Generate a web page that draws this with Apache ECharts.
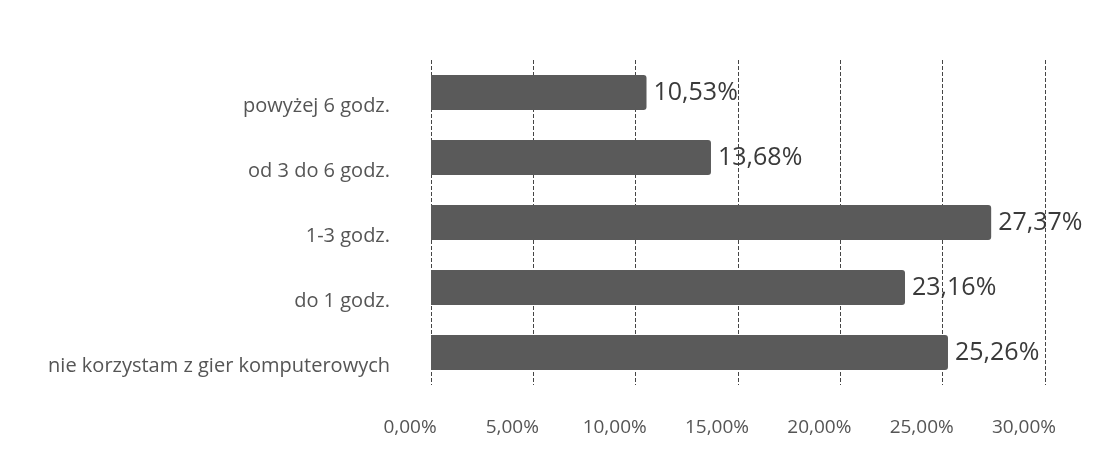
<!DOCTYPE html>
<html>
<head>
<meta charset="utf-8">
<script src="https://cdn.jsdelivr.net/npm/echarts@6/dist/echarts.min.js"></script>
<style>
  html, body { margin: 0; padding: 0; background: #ffffff; }
  #chart { width: 1117px; height: 458px; }
</style>
</head>
<body>
<div id="chart"></div>
<script>
// Time spent on computer games (share of respondents), bottom to top
const categories = [
  'nie korzystam z gier komputerowych',
  'do 1 godz.',
  '1-3 godz.',
  'od 3 do 6 godz.',
  'powyżej 6 godz.'
];
const shares = [25.26, 23.16, 27.37, 13.68, 10.53];

// Axis range and tick step (percent)
const axisMin = 0;
const axisMax = 30;
const axisStep = 5;

const pct = v => v.toFixed(2).replace('.', ',') + '%';

const chart = echarts.init(document.getElementById('chart'), null, { renderer: 'canvas' });

chart.setOption({
  backgroundColor: '#ffffff',
  animation: false,
  grid: { left: 431, right: 72, top: 60, bottom: 73, containLabel: false },
  xAxis: {
    type: 'value',
    min: axisMin,
    max: axisMax,
    interval: axisStep,
    axisLine: { show: false },
    axisTick: { show: false },
    splitLine: {
      show: true,
      lineStyle: { color: '#454545', width: 1, type: [4, 2] }
    },
    axisLabel: {
      margin: 33,
      fontFamily: 'Open Sans',
      fontSize: 19,
      color: '#555555',
      padding: [0, 42, 0, 0],
      formatter: v => pct(v)
    }
  },
  yAxis: {
    type: 'category',
    data: categories,
    axisLine: { show: false },
    axisTick: { show: false },
    splitLine: { show: false },
    axisLabel: {
      margin: 41,
      fontFamily: 'Open Sans',
      fontSize: 20,
      color: '#555555',
      verticalAlign: 'top',
      padding: [4, 0, 0, 0]
    }
  },
  series: [{
    type: 'bar',
    data: shares,
    barCategoryGap: '46%',
    itemStyle: {
      color: '#5a5a5a',
      borderRadius: [0, 3, 3, 0]
    },
    label: {
      show: true,
      position: 'right',
      distance: 7,
      fontFamily: 'Open Sans',
      fontSize: 25,
      color: '#3a3a3a',
      formatter: p => pct(p.value)
    }
  }]
});
</script>
</body>
</html>
